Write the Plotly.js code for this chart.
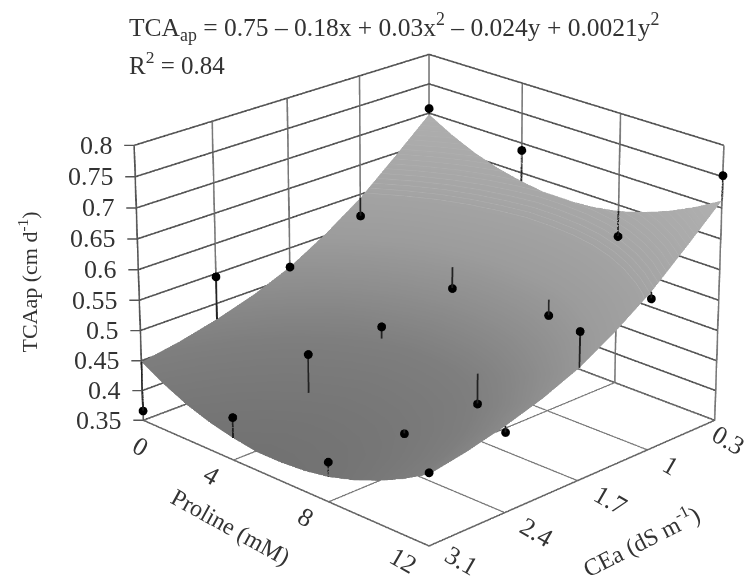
<!DOCTYPE html>
<html><head><meta charset="utf-8">
<script src="https://cdn.plot.ly/plotly-3.0.1.min.js"></script>
<style>html,body{margin:0;padding:0;width:750px;height:576px;overflow:hidden;background:#fff}
#wrap{position:absolute;left:0;top:0;width:750px;height:576px;overflow:hidden}
#g{position:absolute}</style></head>
<body><div id="wrap"><div id="g"></div></div>
<script>
// Axis values
const proline = [0,1,2,3,4,5,6,7,8,9,10,11,12];
const cea = [0.3,0.65,1,1.35,1.7,2.05,2.4,2.75,3.1];
const prolineTicks = [0,4,8,12];
const ceaTicks = [0.3,1,1.7,2.4,3.1];
const tcaTicks = [0.35,0.4,0.45,0.5,0.55,0.6,0.65,0.7,0.75,0.8];
const tcaLabels = ['0.35','0.4','0.45','0.5','0.55','0.6','0.65','0.7','0.75','0.8'];
const ceaLabels = ['0.3','1','1.7','2.4','3.1'];
// Fitted surface, one row per CEa, along proline 0..12
const s03  = [.698,.676,.658,.645,.636,.630,.630,.633,.640,.652,.668,.688,.712];
const s065 = [.645,.623,.605,.592,.583,.577,.577,.580,.587,.599,.615,.635,.659];
const s10  = [.594,.572,.554,.541,.532,.526,.526,.529,.536,.548,.564,.584,.608];
const s135 = [.553,.531,.513,.500,.491,.485,.485,.488,.495,.507,.523,.543,.567];
const s17  = [.518,.496,.478,.465,.456,.450,.450,.453,.460,.472,.488,.508,.532];
const s205 = [.493,.471,.453,.440,.431,.425,.425,.428,.435,.447,.463,.483,.507];
const s24  = [.474,.452,.434,.421,.412,.406,.406,.409,.416,.428,.444,.464,.488];
const s275 = [.459,.437,.419,.406,.397,.391,.391,.394,.401,.413,.429,.449,.473];
const s31  = [.448,.426,.408,.395,.386,.380,.380,.383,.390,.402,.418,.438,.462];
// Observed points, one row per CEa, at proline 0,4,8,12
const obs03 = [.708,.688,.598,.752];
const obs10 = [.563,.496,.510,.597];
const obs17 = [.518,.476,.410,.590];
const obs24 = [.545,.476,.410,.478];
const obs31 = [.366,.420,.414,.465];

const surfRows = [s03,s065,s10,s135,s17,s205,s24,s275,s31];
const zGrid = proline.map((_,i)=>surfRows.map(r=>r[i]));

const K = 5, W = Math.round(750*K), H = Math.round(576*K);
const R = 8.47;
const cx = 428.5, cy = 285;
const left = cx - W/2, top_ = cy - H/2;
const g = document.getElementById('g');
g.style.left = left+'px'; g.style.top = top_+'px'; g.style.width = W+'px'; g.style.height = H+'px';
const px = X => (X-left)/W, py = Y => 1-(Y-top_)/H;

const serif = 'Liberation Serif, Times New Roman, serif';
const INK = '#333333';

// points and drop lines
const ox=[],oy=[],oz=[],lx=[],ly=[],lz=[];
[[0.3,obs03,s03],[1,obs10,s10],[1.7,obs17,s17],[2.4,obs24,s24],[3.1,obs31,s31]].forEach(([c,vals,row])=>{
  prolineTicks.forEach((p,i)=>{
    ox.push(c);oy.push(p);oz.push(vals[i]);
    lx.push(c,c,null);ly.push(p,p,null);lz.push(vals[i],row[proline.indexOf(p)],null);
  });
});

const surface = {type:'surface',scene:'scene',x:cea,y:proline,z:zGrid,showscale:false,
  cmin:.38,cmax:.712,
  colorscale:[[0,'#727272'],[.21,'#7e7e7e'],[.36,'#8e8e8e'],[.51,'#9c9c9c'],[.72,'#a6a6a6'],[1,'#b0b0b0']],
  lighting:{ambient:1,diffuse:0,specular:0,roughness:1,fresnel:0},
  hoverinfo:'skip',
  contours:{x:{highlight:false},y:{highlight:false},
    z:{highlight:false,show:true,start:.6,end:.72,size:.006,color:'#b0b0b0',width:1}}};
const drops = {type:'scatter3d',scene:'scene2',mode:'lines',x:lx,y:ly,z:lz,
  line:{color:'#222222',width:3},connectgaps:false,hoverinfo:'skip'};
const dots = {type:'scatter3d',scene:'scene2',mode:'markers',x:ox,y:oy,z:oz,
  marker:{color:'#000000',size:4.5,line:{width:0}},hoverinfo:'skip'};

const cam = {eye:{x:.657*R,y:.657*R,z:.37*R},center:{x:0,y:0,z:0},up:{x:0,y:0,z:1}};
const aspect = {x:1,y:1,z:.721};
const base = {showspikes:false,showbackground:false,zeroline:false,showticklabels:false,title:{text:''}};

// pixel offsets of the rotated tick labels from their ticks
const prolineShift = [[-3,26],[-22,15],[-23,16],[-26,15]];
const ceaShift = [[14,20],[23,16],[33,20],[32,20],[32,15]];

function ann(x,y,z,text,opts){return Object.assign({x,y,z,text,showarrow:false,font:{family:serif,size:26,color:INK}},opts);}
const sceneAnn = [];
tcaTicks.forEach((t,i)=>sceneAnn.push(ann(3.1,0,t,tcaLabels[i],{showarrow:true,arrowhead:0,arrowwidth:1.4,arrowcolor:'#555555',ax:-10,ay:0,xanchor:'right',borderpad:10,standoff:0})));
prolineTicks.forEach((p,i)=>sceneAnn.push(ann(3.1,p,.35,String(p),{textangle:30,xshift:prolineShift[i][0],yshift:-prolineShift[i][1]})));
ceaTicks.forEach((c,i)=>sceneAnn.push(ann(c,12,.35,ceaLabels[i],{textangle:30,xshift:ceaShift[i][0],yshift:-ceaShift[i][1]})));

const layout = {
  width:W,height:H,margin:{l:0,r:0,t:0,b:0},paper_bgcolor:'rgba(0,0,0,0)',showlegend:false,
  scene:{domain:{x:[0,1],y:[0,1]},aspectmode:'manual',aspectratio:aspect,camera:cam,
    xaxis:Object.assign({},base,{range:[.3,3.1],tickvals:ceaTicks,gridcolor:'#777777',gridwidth:3,showline:true,linecolor:'#666666',linewidth:3}),
    yaxis:Object.assign({},base,{range:[0,12],tickvals:prolineTicks,gridcolor:'#777777',gridwidth:3,showline:true,linecolor:'#666666',linewidth:3}),
    zaxis:Object.assign({},base,{range:[.35,.8],tickvals:tcaTicks,gridcolor:'#555555',gridwidth:3,showline:true,linecolor:'#555555',linewidth:3}),
    annotations:sceneAnn},
  scene2:{domain:{x:[0,1],y:[0,1]},aspectmode:'manual',aspectratio:aspect,camera:cam,
    xaxis:{visible:false,range:[.3,3.1]},yaxis:{visible:false,range:[0,12]},zaxis:{visible:false,range:[.35,.8]}},
  annotations:[
    {xref:'paper',yref:'paper',x:px(126),y:py(27),xanchor:'left',yanchor:'middle',showarrow:false,
     text:'TCA<sub>ap</sub> = 0.75 – 0.18x + 0.03x<sup>2</sup> – 0.024y + 0.0021y<sup>2</sup>',font:{family:serif,size:25.5,color:INK}},
    {xref:'paper',yref:'paper',x:px(126),y:py(63),xanchor:'left',yanchor:'middle',showarrow:false,
     text:'R<sup>2</sup> = 0.84',font:{family:serif,size:25,color:INK}},
    {xref:'paper',yref:'paper',x:px(27),y:py(282),xanchor:'center',yanchor:'middle',showarrow:false,textangle:-90,
     text:'TCAap (cm d<sup>-1</sup>)',font:{family:serif,size:22,color:INK}},
    {xref:'paper',yref:'paper',x:px(230),y:py(527),xanchor:'center',yanchor:'middle',showarrow:false,textangle:29,
     text:'Proline (mM)',font:{family:serif,size:24,color:INK}},
    {xref:'paper',yref:'paper',x:px(640),y:py(540),xanchor:'center',yanchor:'middle',showarrow:false,textangle:-27,
     text:'CEa (dS m<sup>-1</sup>)',font:{family:serif,size:24,color:INK}}
  ]
};
Plotly.newPlot(g,[surface,drops,dots],layout,{displayModeBar:false});
</script></body></html>
